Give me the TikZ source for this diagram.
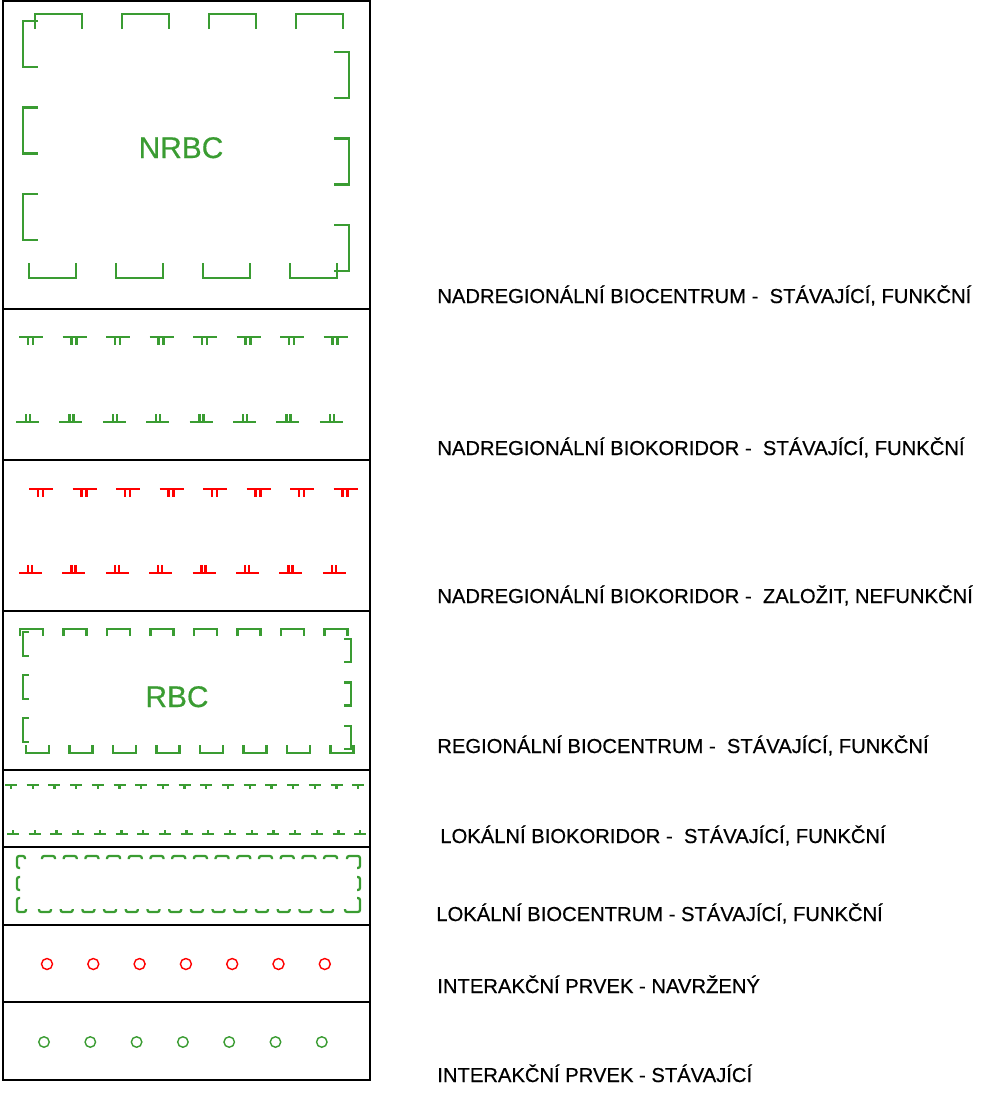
\documentclass[tikz,border=0pt]{standalone}
\usepackage{fontspec}
\setmainfont{Liberation Sans}
\newfontfamily\legfont{Liberation Sans}[FakeBold=0.5]
\definecolor{usesgreen}{RGB}{58,156,50}
\begin{document}
\begin{tikzpicture}[x=0.02cm, y=-0.02cm,
  frame/.style={draw=black, line width=1.5pt},
  zelena/.style={draw=usesgreen, line width=1.4pt},
  cervena/.style={draw=red, line width=1.4pt},
  lokalni/.style={draw=usesgreen, line width=1.3pt, rounded corners=1.2pt},
  popis/.style={anchor=base west, inner sep=0pt, font=\legfont\fontsize{11.5}{13}\selectfont},
  zkratka/.style={anchor=base, inner sep=0pt, text=usesgreen, font=\legfont\fontsize{17}{20}\selectfont}]
  \useasboundingbox (0,0) rectangle (981,1107);

  % ramecky legendy
  \foreach \ya/\yb in {1/309, 309/460, 460/611, 611/770, 770/847, 847/925, 925/1002, 1002/1080}
    \draw[frame] (3,\ya) rectangle (370,\yb);

  % nadregionalni biocentrum
  \foreach \i in {0,...,3} {
    \draw[zelena] (35+87*\i,29) -- ++(0,-15) -- ++(47,0) -- ++(0,15);
    \draw[zelena] (29+87*\i,263) -- ++(0,15) -- ++(47,0) -- ++(0,-15);
  }
  \foreach \i in {0,1,2} {
    \draw[zelena] (38,21+86.5*\i) -- ++(-15,0) -- ++(0,46) -- ++(15,0);
    \draw[zelena] (334,52+86.5*\i) -- ++(15,0) -- ++(0,46) -- ++(-15,0);
  }
  \node[zkratka] (nrbc) at (181,158) {NRBC};

  % nadregionalni biokoridor - stavajici
  \foreach \i in {0,...,7} {
    \draw[zelena] (19+43.5*\i,337) -- ++(24,0);
    \draw[zelena] (28+43.5*\i,337) -- ++(0,8) (33+43.5*\i,337) -- ++(0,8);
    \draw[zelena] (16+43.4*\i,422) -- ++(23,0);
    \draw[zelena] (26+43.4*\i,422) -- ++(0,-8) (30+43.4*\i,422) -- ++(0,-8);
  }

  % nadregionalni biokoridor - zalozit
  \foreach \i in {0,...,7} {
    \draw[cervena] (29+43.5*\i,489) -- ++(24,0);
    \draw[cervena] (38+43.5*\i,489) -- ++(0,8) (43+43.5*\i,489) -- ++(0,8);
    \draw[cervena] (19+43.4*\i,573) -- ++(23,0);
    \draw[cervena] (28+43.4*\i,573) -- ++(0,-8) (32+43.4*\i,573) -- ++(0,-8);
  }

  % regionalni biocentrum
  \foreach \i in {0,...,7} {
    \draw[zelena] (20+43.5*\i,636) -- ++(0,-7) -- ++(23,0) -- ++(0,7);
    \draw[zelena] (26+43.5*\i,745) -- ++(0,8) -- ++(23,0) -- ++(0,-8);
  }
  \foreach \i in {0,1,2} {
    \draw[zelena] (29,632+43*\i) -- ++(-6,0) -- ++(0,24) -- ++(6,0);
    \draw[zelena] (344,639+43.5*\i) -- ++(7,0) -- ++(0,23) -- ++(-7,0);
  }
  \node[zkratka] (rbc) at (177,707) {RBC};

  % lokalni biokoridor
  \foreach \i in {0,...,16} {
    \draw[zelena, line width=1.3pt] (5+21.7*\i,785) -- ++(12,0) (11+21.7*\i,785) -- ++(0,4);
    \draw[zelena, line width=1.3pt] (7+21.7*\i,834) -- ++(12,0) (13+21.7*\i,834) -- ++(0,-4);
  }

  % lokalni biocentrum
  \draw[lokalni] (25,859) -- (25,856) -- (17,856) -- (17,868) -- (20,868);
  \draw[lokalni] (20,877) -- (17,877) -- (17,890) -- (20,890);
  \draw[lokalni] (20,898) -- (17,898) -- (17,912) -- (26,912) -- (26,909);
  \draw[lokalni] (347,859) -- (347,856) -- (360,856) -- (360,868) -- (357,868);
  \draw[lokalni] (357,877) -- (360,877) -- (360,890) -- (357,890);
  \draw[lokalni] (357,898) -- (360,898) -- (360,912) -- (345,912) -- (345,909);
  \foreach \i in {0,...,13} {
    \draw[lokalni] (42+21.7*\i,859) -- ++(0,-3) -- ++(13,0) -- ++(0,3);
    \draw[lokalni] (39+21.7*\i,909) -- ++(0,3) -- ++(12,0) -- ++(0,-3);
  }

  % interakcni prvky
  \foreach \i in {0,...,6} {
    \draw[red, line width=0.8pt] (47+46.3*\i,964) circle[radius=0.11cm];
    \draw[usesgreen, line width=0.8pt] (44+46.3*\i,1042) circle[radius=0.105cm];
  }

  % popisy
  \node[popis] (t1) at (437,303) {NADREGIONÁLNÍ BIOCENTRUM -\ \ STÁVAJÍCÍ, FUNKČNÍ};
  \node[popis] (t2) at (437,455) {NADREGIONÁLNÍ BIOKORIDOR -\ \ STÁVAJÍCÍ, FUNKČNÍ};
  \node[popis] (t3) at (437,603) {NADREGIONÁLNÍ BIOKORIDOR -\ \ ZALOŽIT, NEFUNKČNÍ};
  \node[popis] (t4) at (437,753) {REGIONÁLNÍ BIOCENTRUM -\ \ STÁVAJÍCÍ, FUNKČNÍ};
  \node[popis] (t5) at (440,843) {LOKÁLNÍ BIOKORIDOR -\ \ STÁVAJÍCÍ, FUNKČNÍ};
  \node[popis] (t6) at (436,921) {LOKÁLNÍ BIOCENTRUM - STÁVAJÍCÍ, FUNKČNÍ};
  \node[popis] (t7) at (437,993) {INTERAKČNÍ PRVEK - NAVRŽENÝ};
  \node[popis] (t8) at (437,1082) {INTERAKČNÍ PRVEK - STÁVAJÍCÍ};
\end{tikzpicture}
\end{document}
